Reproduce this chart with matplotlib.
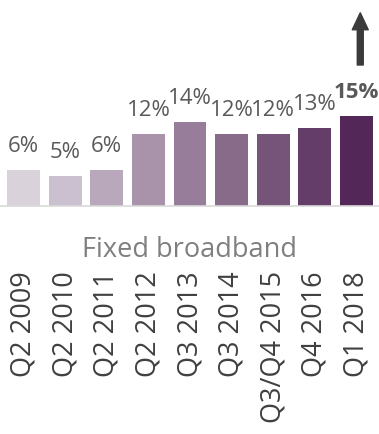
import matplotlib
matplotlib.use("Agg")
import matplotlib.pyplot as plt
from matplotlib.patches import FancyArrowPatch

periods = ["Q2 2009", "Q2 2010", "Q2 2011", "Q2 2012", "Q3 2013",
           "Q3 2014", "Q3/Q4 2015", "Q4 2016", "Q1 2018"]
shares = [6, 5, 6, 12, 14, 12, 12, 13, 15]
bar_colors = ["#d9d2db", "#cbc0cf", "#b9a7bc", "#a993ab", "#977d99",
              "#876b89", "#765479", "#643d68", "#532859"]
category = "Fixed broadband"

plt.rcParams["font.family"] = ["Open Sans", "DejaVu Sans"]

W, H, DPI = 379, 434, 100
fig = plt.figure(figsize=(W / DPI, H / DPI), dpi=DPI)
base_px = 206
ax = fig.add_axes([0, (H - base_px) / H, 1, base_px / H])

x = list(range(len(shares)))
ax.bar(x, shares, width=0.79, color=bar_colors, zorder=2)
ax.set_xlim(-0.565, 8.54)
ax.set_ylim(0, base_px / 6.0)

for i, v in enumerate(shares):
    last = i == len(shares) - 1
    ax.annotate(f"{v}%", xy=(i, v), xytext=(0, 13), textcoords="offset points",
                ha="center", va="baseline", fontsize=16,
                fontweight="bold" if last else "normal", color="#595959")

ax.set_xticks(x)
ax.set_xticklabels(periods, rotation=90, fontsize=19.5, color="#404040",
                   va="top", ha="center")
ax.tick_params(axis="x", length=0, pad=47)
ax.set_yticks([])
for s in ("top", "left", "right"):
    ax.spines[s].set_visible(False)
ax.spines["bottom"].set_color("#d9d9d9")
ax.spines["bottom"].set_linewidth(1.2)

fig.text(0.5, (H - 257) / H, category, ha="center", va="baseline",
         fontsize=19.5, color="#7f7f7f")

# upward trend arrow above the latest bar
arrow = FancyArrowPatch((8.09, 23.5), (8.09, 32.2),
                        arrowstyle="simple,head_length=1.22,head_width=1.15,tail_width=0.43",
                        mutation_scale=10, color="#3b3b3b", shrinkA=0, shrinkB=0,
                        transform=ax.transData, clip_on=False, zorder=3)
ax.add_patch(arrow)

fig.savefig("out.png", dpi=DPI)
